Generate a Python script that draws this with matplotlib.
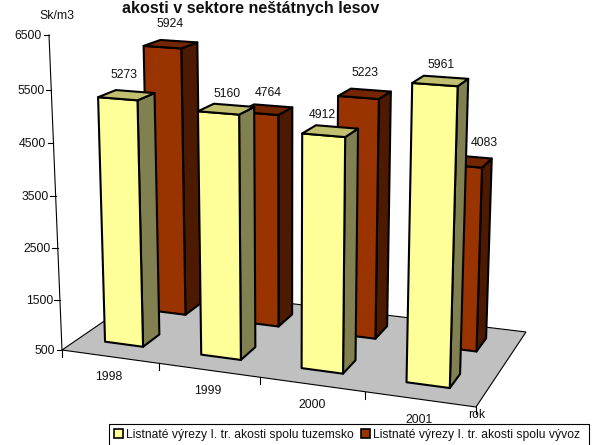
import numpy as np
import matplotlib
matplotlib.use("Agg")
import matplotlib.pyplot as plt
from matplotlib.patches import Polygon, Patch, Rectangle

plt.rcParams['font.family'] = ['Liberation Sans', 'DejaVu Sans']

# --- data ---
years = ['1998', '1999', '2000', '2001']
tuzemsko = [5273, 5160, 4912, 5961]
vyvoz = [5924, 4764, 5223, 4083]
y_ticks = [500, 1500, 2500, 3500, 4500, 5500, 6500]
series_names = ['Listnaté výrezy I. tr. akosti spolu tuzemsko',
                'Listnaté výrezy I. tr. akosti spolu vývoz']
title = 'akosti v sektore neštátnych lesov'

# --- projection: the chart's 3-D box seen in perspective, in pixel space ---
floor_corners = [(62, 350), (476, 407), (526, 332), (154, 287)]
axis_top = (49, 35)
vanish = (286, 6700)
Y_MIN, Y_MAX = 500, 6500
FS = 8.8

def fit_floor(dst):
    src = [(0, 0), (1, 0), (1, 1), (0, 1)]
    A, b = [], []
    for (u, v), (x, y) in zip(src, dst):
        A.append([u, v, 1, 0, 0, 0, -u * x, -v * x]); b.append(x)
        A.append([0, 0, 0, u, v, 1, -u * y, -v * y]); b.append(y)
    h = np.linalg.solve(np.array(A, float), np.array(b, float))
    return np.append(h, 1).reshape(3, 3)

H = fit_floor(floor_corners)
k = (axis_top[1] * H[2, 2] - H[1, 2]) / (vanish[1] - axis_top[1])
P = np.column_stack([H[:, 0], H[:, 1], k * np.array([vanish[0], vanish[1], 1.0]), H[:, 2]])

def proj(u, v, value):
    w = (value - Y_MIN) / (Y_MAX - Y_MIN)
    p = P @ np.array([u, v, w, 1.0])
    return p[0] / p[2], p[1] / p[2]

def axis_point(value):
    # the value axis leans a little more than the bars
    _, y = proj(0, 0, value)
    x0, y0 = proj(0, 0, Y_MIN)
    return x0 + (axis_top[0] - x0) * (y0 - y) / (y0 - axis_top[1]), y

# --- figure ---
fig = plt.figure(figsize=(6.01, 4.45), dpi=100, facecolor='white')
ax = fig.add_axes([0, 0, 1, 1])
ax.set_xlim(0, 601)
ax.set_ylim(445, 0)
ax.axis('off')

# floor
ax.add_patch(Polygon([proj(u, v, Y_MIN) for u, v in [(0, 0), (1, 0), (1, 1), (0, 1)]],
                     closed=True, fc='#C0C0C0', ec='black', lw=0.8, zorder=1))

# value axis
x0, y0 = axis_point(Y_MIN)
x1, y1 = axis_point(Y_MAX)
ax.plot([x0, x1], [y0, y1], color='black', lw=0.8, zorder=2)
for t in y_ticks:
    x, y = axis_point(t)
    ax.plot([x - 5.5, x], [y, y], color='black', lw=0.8, zorder=2)
    ax.text(x - 7, y + 1, str(t), ha='right', va='center', fontsize=FS, color='#111111')
ax.text(57, 16, 'Sk/m3', ha='center', va='center', fontsize=FS, color='#111111')

# category axis
n = len(years)
for i in range(n + 1):
    x, y = proj(i / n, 0, Y_MIN)
    ax.plot([x, x], [y, y + 7], color='black', lw=0.8, zorder=2)
year_dx = [-1, -1, 0, -1]
for i, yr in enumerate(years):
    x, y = proj((i + 0.5) / n, 0, Y_MIN)
    ax.text(x + year_dx[i], y + 20.5, yr, ha='center', va='center', fontsize=FS, color='#111111')
xr, yr_ = proj(1, 0, Y_MIN)
ax.text(xr + 1, yr_ + 7.5, 'rok', ha='center', va='center', fontsize=FS, color='#111111')

# bars
BAR_W = 0.4 / n
U_SHIFT = -0.006

def bar(i, v0, v1, val, colors, dx, dy):
    front, side, top = colors
    u0 = (i + 0.5) / n - BAR_W / 2 + U_SHIFT
    u1 = u0 + BAR_W
    faces = [
        ([(u1, v0, Y_MIN), (u1, v1, Y_MIN), (u1, v1, val), (u1, v0, val)], side),
        ([(u0, v0, Y_MIN), (u1, v0, Y_MIN), (u1, v0, val), (u0, v0, val)], front),
        ([(u0, v0, val), (u1, v0, val), (u1, v1, val), (u0, v1, val)], top),
    ]
    for pts, col in faces:
        ax.add_patch(Polygon([proj(*p) for p in pts], closed=True, fc=col, ec='black',
                             lw=1.5, joinstyle='round', zorder=3))
    cx, cy = proj((u0 + u1) / 2, (v0 + v1) / 2, val)
    ax.text(cx + dx, cy - 18 + dy, str(val), ha='center', va='center', fontsize=FS,
            color='#111111', zorder=6)

YEL = ('#FFFF99', '#808050', '#C0C070')
RED = ('#993300', '#4D1A00', '#732600')
label_dx_red = [-1, 2, 0.5, 18.5]
label_dy_red = [-2, 1.5, -3, 0]
label_dx_yel = [-2.5, 0.5, -8.5, 0.5]
label_dy_yel = [-2, 3, 2, 2]
for i, val in enumerate(vyvoz):
    bar(i, 0.655, 0.845, val, RED, label_dx_red[i], label_dy_red[i])
for i, val in enumerate(tuzemsko):
    bar(i, 0.17, 0.35, val, YEL, label_dx_yel[i], label_dy_yel[i])

fig.text(251 / 601, 1 - 8.5 / 445, title, ha='center', va='center', fontsize=11.6,
         fontweight='bold', color='#111111')

# legend box runs past the lower edge of the picture, as in the reference
ax.add_patch(Rectangle((109, 424), 480, 24, fc='white', ec='black', lw=0.8, zorder=7))
handles = [Patch(fc=YEL[0], ec='black', lw=1.2), Patch(fc=RED[0], ec='black', lw=1.2)]
leg = ax.legend(handles, series_names, loc='lower left',
                bbox_to_anchor=(109 / 601, 1 - 446 / 445), bbox_transform=ax.transAxes,
                ncol=2, fontsize=8.72, frameon=False, borderaxespad=0, borderpad=0.43,
                handlelength=0.75, handleheight=0.75, handletextpad=0.25, columnspacing=0.55)
leg.set_zorder(8)
for t in leg.get_texts():
    t.set_color('#111111')

fig.savefig('out.png', dpi=100)
